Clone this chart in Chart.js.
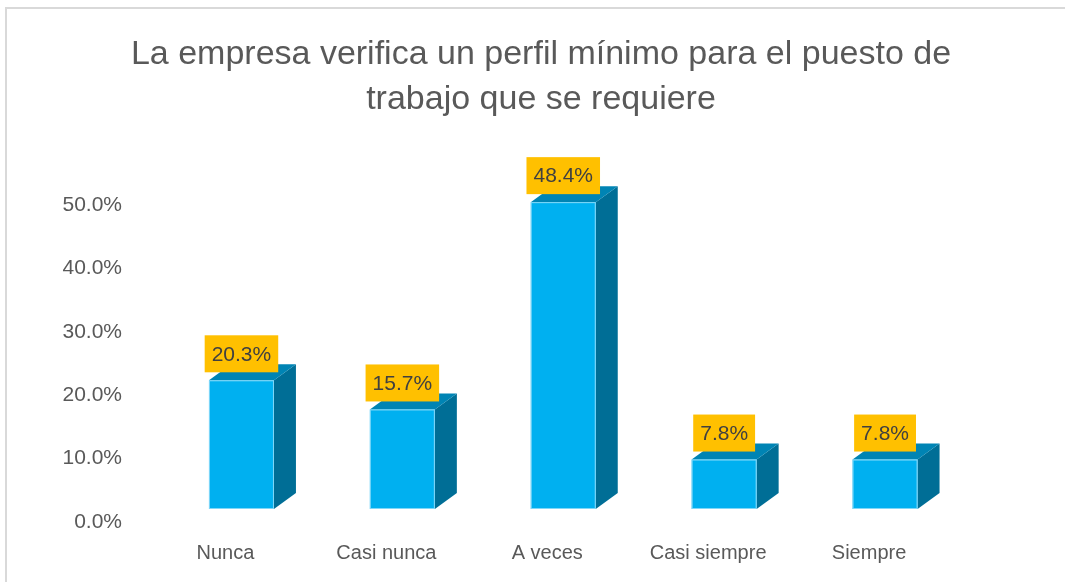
<!DOCTYPE html>
<html lang="es">
<head>
    <meta charset="UTF-8">
    <title>Perfil mínimo para el puesto</title>
    <script src="https://cdn.jsdelivr.net/npm/chart.js"></script>
    <style>
        body {
            margin: 0;
            background-color: white;
        }
        #wrap {
            width: 1065px;
            height: 582px;
        }
    </style>
</head>
<body>
    <div id="wrap">
        <canvas id="perfilChart" width="1065" height="582"></canvas>
    </div>

    <script>
        // data
        var categories = ['Nunca', 'Casi nunca', 'A veces', 'Casi siempre', 'Siempre'];
        var percentages = [20.3, 15.7, 48.4, 7.8, 7.8];
        var tickValues = [0, 10, 20, 30, 40, 50];
        var titleLines = ['La empresa verifica un perfil mínimo para el puesto de', 'trabajo que se requiere'];

        var FONT = "'Liberation Sans', Arial, sans-serif";

        // Excel-like 3D column look: front face, side face, top face + yellow labels
        var bars3d = {
            id: 'bars3d',
            beforeDraw: function(chart) {
                var ctx = chart.ctx;
                ctx.save();
                ctx.fillStyle = 'white';
                ctx.fillRect(0, 0, chart.width, chart.height);
                ctx.strokeStyle = '#D9D9D9';
                ctx.lineWidth = 2;
                ctx.beginPath();
                ctx.moveTo(6, chart.height);
                ctx.lineTo(6, 8);
                ctx.lineTo(chart.width, 8);
                ctx.stroke();
                ctx.restore();
            },
            afterDatasetsDraw: function(chart) {
                var ctx = chart.ctx;
                var meta = chart.getDatasetMeta(0);
                var dx = 22, dy = 16, lift = 13, shift = 16;
                ctx.save();
                meta.data.forEach(function(el, i) {
                    var p = el.getProps(['x', 'y', 'base', 'width'], true);
                    var x0 = p.x - p.width / 2 + shift;
                    var x1 = p.x + p.width / 2 + shift;
                    var top = p.y - lift;
                    var base = p.base - lift;

                    // side
                    ctx.fillStyle = '#006E96';
                    ctx.beginPath();
                    ctx.moveTo(x1, top);
                    ctx.lineTo(x1 + dx, top - dy);
                    ctx.lineTo(x1 + dx, base - dy);
                    ctx.lineTo(x1, base);
                    ctx.closePath();
                    ctx.fill();

                    // top
                    ctx.fillStyle = '#0084B4';
                    ctx.beginPath();
                    ctx.moveTo(x0, top);
                    ctx.lineTo(x0 + dx, top - dy);
                    ctx.lineTo(x1 + dx, top - dy);
                    ctx.lineTo(x1, top);
                    ctx.closePath();
                    ctx.fill();

                    // front
                    ctx.fillStyle = '#00B0F0';
                    ctx.fillRect(x0, top, x1 - x0, base - top);
                    ctx.strokeStyle = 'rgba(160,225,250,0.8)';
                    ctx.lineWidth = 1;
                    ctx.strokeRect(x0 + 0.5, top + 0.5, x1 - x0 - 1, base - top - 1);

                    // value label
                    var txt = percentages[i].toFixed(1) + '%';
                    ctx.font = '21px ' + FONT;
                    var tw = ctx.measureText(txt).width;
                    var bw = tw + 14, bh = 37;
                    var cx = (x0 + x1) / 2;
                    var by = top - 8 - bh;
                    ctx.fillStyle = '#FFC000';
                    ctx.fillRect(cx - bw / 2, by, bw, bh);
                    ctx.fillStyle = '#404040';
                    ctx.textAlign = 'center';
                    ctx.textBaseline = 'middle';
                    ctx.fillText(txt, cx, by + bh / 2 + 1);
                });
                ctx.restore();
            }
        };

        var ctx = document.getElementById('perfilChart').getContext('2d');
        var perfilChart = new Chart(ctx, {
            type: 'bar',
            data: {
                labels: categories,
                datasets: [{
                    data: percentages,
                    backgroundColor: 'rgba(0,0,0,0)',
                    borderWidth: 0,
                    barPercentage: 0.404,
                    categoryPercentage: 1.0
                }]
            },
            plugins: [bars3d],
            options: {
                responsive: false,
                animation: false,
                layout: {
                    padding: { left: 17, right: 0, top: 0, bottom: 0 }
                },
                plugins: {
                    legend: { display: false },
                    tooltip: { enabled: false },
                    title: {
                        display: true,
                        text: titleLines,
                        color: '#595959',
                        font: { family: FONT, size: 34, weight: 'normal', lineHeight: '45px' },
                        padding: { top: 32.5, bottom: 82.5 }
                    }
                },
                scales: {
                    x: {
                        grid: { display: false, drawTicks: false },
                        border: { display: false },
                        ticks: {
                            color: '#595959',
                            padding: 19,
                            font: { family: FONT, size: 20 }
                        },
                        afterFit: function(scale) { scale.height = 60; }
                    },
                    y: {
                        min: 0,
                        max: 50,
                        afterBuildTicks: function(scale) {
                            scale.ticks = tickValues.map(function(v) { return { value: v }; });
                        },
                        grid: { display: false, drawTicks: false },
                        border: { display: false },
                        ticks: {
                            color: '#595959',
                            padding: 23,
                            font: { family: FONT, size: 21 },
                            callback: function(value) {
                                return value.toFixed(1) + '%';
                            }
                        },
                        afterFit: function(scale) { scale.width = 128; }
                    },
                    y2: {
                        position: 'right',
                        display: true,
                        grid: { display: false, drawTicks: false },
                        border: { display: false },
                        ticks: { display: false },
                        afterFit: function(scale) { scale.width = 115.5; }
                    }
                }
            }
        });
    </script>
</body>
</html>
